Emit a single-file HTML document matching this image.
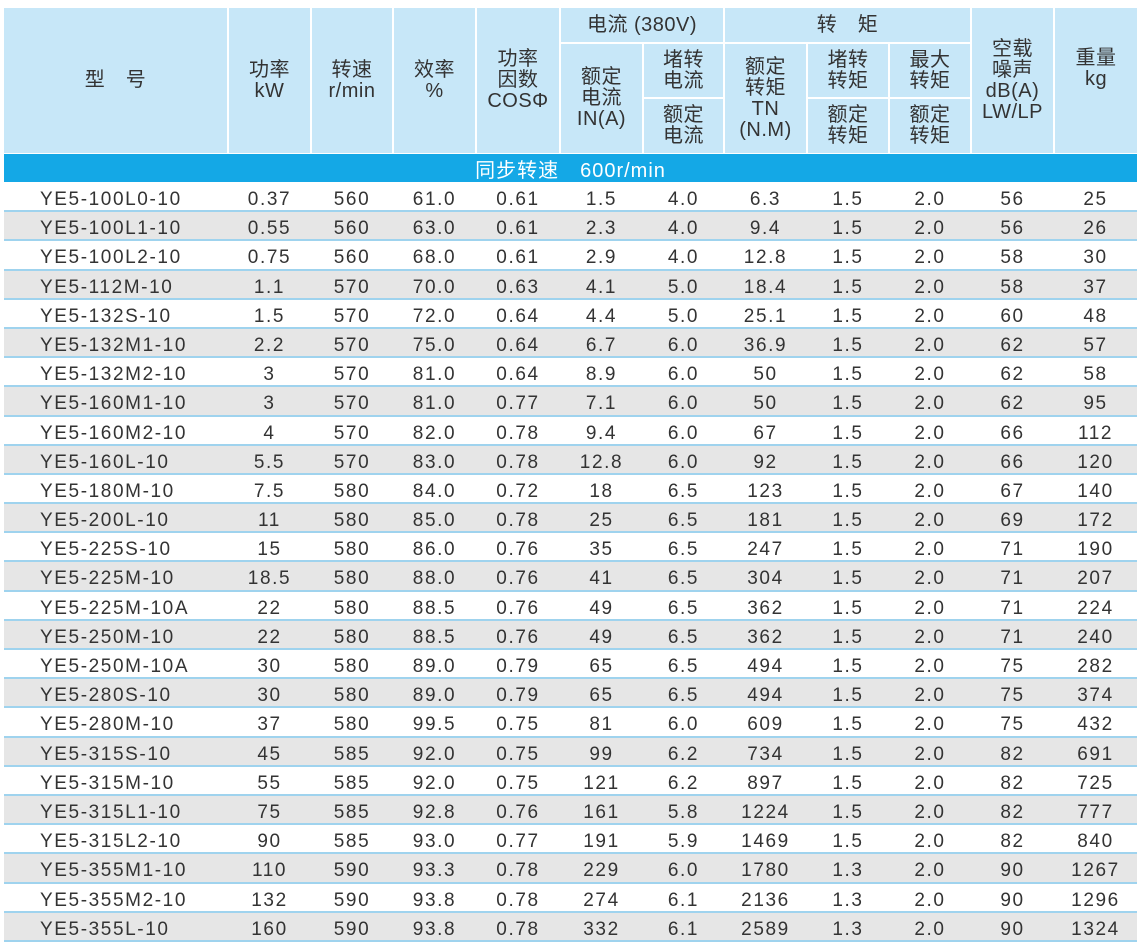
<!DOCTYPE html>
<html><head><meta charset="utf-8"><style>
body{margin:0;width:1144px;height:947px;background:#fff;position:relative;overflow:hidden;font-family:"Liberation Sans","Noto Sans CJK SC",sans-serif;color:#333}
.h{position:absolute;background:#c7e7f8;display:flex;align-items:center;justify-content:center;text-align:center;font-size:20px;line-height:21px;color:#333;letter-spacing:0.5px}
.band{position:absolute;left:4px;top:154px;width:1133px;height:28px;background:#14a8e6;color:#fff;font-size:20px;line-height:34px;text-align:center;letter-spacing:1px}
.rows{position:absolute;left:4px;top:183px;width:1133px}
.r{height:27.2px;border-bottom:2px solid #9fd3ee;display:flex;font-size:19px;line-height:34px;color:#333;letter-spacing:1.6px}
.r.g{background:#e6e6e6}
.r span{text-align:center;display:block}
.r span:nth-child(1){width:224px;text-align:left;padding-left:36px;box-sizing:border-box}
.r span:nth-child(2){width:83px}.r span:nth-child(3){width:82px}.r span:nth-child(4){width:83px}
.r span:nth-child(5){width:84px}.r span:nth-child(6){width:83px}.r span:nth-child(7){width:81px}
.r span:nth-child(8){width:83px}.r span:nth-child(9){width:82px}.r span:nth-child(10){width:82px}
.r span:nth-child(11){width:83px}.r span:nth-child(12){width:83px}
</style></head><body>
<div class="h" style="left:4px;top:8px;width:223px;height:145px">型　号</div>
<div class="h" style="left:229px;top:8px;width:81px;height:145px">功率<br>kW</div>
<div class="h" style="left:312px;top:8px;width:80px;height:145px">转速<br>r/min</div>
<div class="h" style="left:394px;top:8px;width:81px;height:145px">效率<br>%</div>
<div class="h" style="left:477px;top:8px;width:82px;height:145px;padding-top:0">功率<br>因数<br>COSΦ</div>
<div class="h" style="left:561px;top:8px;width:162px;height:34px">电流 (380V)</div>
<div class="h" style="left:725px;top:8px;width:245px;height:34px">转　矩</div>
<div class="h" style="left:561px;top:44px;width:81px;height:109px">额定<br>电流<br>IN(A)</div>
<div class="h" style="left:644px;top:44px;width:79px;height:53px">堵转<br>电流</div>
<div class="h" style="left:644px;top:99px;width:79px;height:54px">额定<br>电流</div>
<div class="h" style="left:725px;top:44px;width:81px;height:109px">额定<br>转矩<br>TN<br>(N.M)</div>
<div class="h" style="left:808px;top:44px;width:80px;height:53px">堵转<br>转矩</div>
<div class="h" style="left:808px;top:99px;width:80px;height:54px">额定<br>转矩</div>
<div class="h" style="left:890px;top:44px;width:80px;height:53px">最大<br>转矩</div>
<div class="h" style="left:890px;top:99px;width:80px;height:54px">额定<br>转矩</div>
<div class="h" style="left:972px;top:8px;width:81px;height:145px">空载<br>噪声<br>dB(A)<br>LW/LP</div>
<div class="h" style="left:1055px;top:8px;width:82px;height:145px;align-items:flex-start;padding-top:40px;box-sizing:border-box">重量<br>kg</div>
<div class="band">同步转速　600r/min</div>
<div class="rows">
<div class="r"><span>YE5-100L0-10</span><span>0.37</span><span>560</span><span>61.0</span><span>0.61</span><span>1.5</span><span>4.0</span><span>6.3</span><span>1.5</span><span>2.0</span><span>56</span><span>25</span></div>
<div class="r g"><span>YE5-100L1-10</span><span>0.55</span><span>560</span><span>63.0</span><span>0.61</span><span>2.3</span><span>4.0</span><span>9.4</span><span>1.5</span><span>2.0</span><span>56</span><span>26</span></div>
<div class="r"><span>YE5-100L2-10</span><span>0.75</span><span>560</span><span>68.0</span><span>0.61</span><span>2.9</span><span>4.0</span><span>12.8</span><span>1.5</span><span>2.0</span><span>58</span><span>30</span></div>
<div class="r g"><span>YE5-112M-10</span><span>1.1</span><span>570</span><span>70.0</span><span>0.63</span><span>4.1</span><span>5.0</span><span>18.4</span><span>1.5</span><span>2.0</span><span>58</span><span>37</span></div>
<div class="r"><span>YE5-132S-10</span><span>1.5</span><span>570</span><span>72.0</span><span>0.64</span><span>4.4</span><span>5.0</span><span>25.1</span><span>1.5</span><span>2.0</span><span>60</span><span>48</span></div>
<div class="r g"><span>YE5-132M1-10</span><span>2.2</span><span>570</span><span>75.0</span><span>0.64</span><span>6.7</span><span>6.0</span><span>36.9</span><span>1.5</span><span>2.0</span><span>62</span><span>57</span></div>
<div class="r"><span>YE5-132M2-10</span><span>3</span><span>570</span><span>81.0</span><span>0.64</span><span>8.9</span><span>6.0</span><span>50</span><span>1.5</span><span>2.0</span><span>62</span><span>58</span></div>
<div class="r g"><span>YE5-160M1-10</span><span>3</span><span>570</span><span>81.0</span><span>0.77</span><span>7.1</span><span>6.0</span><span>50</span><span>1.5</span><span>2.0</span><span>62</span><span>95</span></div>
<div class="r"><span>YE5-160M2-10</span><span>4</span><span>570</span><span>82.0</span><span>0.78</span><span>9.4</span><span>6.0</span><span>67</span><span>1.5</span><span>2.0</span><span>66</span><span>112</span></div>
<div class="r g"><span>YE5-160L-10</span><span>5.5</span><span>570</span><span>83.0</span><span>0.78</span><span>12.8</span><span>6.0</span><span>92</span><span>1.5</span><span>2.0</span><span>66</span><span>120</span></div>
<div class="r"><span>YE5-180M-10</span><span>7.5</span><span>580</span><span>84.0</span><span>0.72</span><span>18</span><span>6.5</span><span>123</span><span>1.5</span><span>2.0</span><span>67</span><span>140</span></div>
<div class="r g"><span>YE5-200L-10</span><span>11</span><span>580</span><span>85.0</span><span>0.78</span><span>25</span><span>6.5</span><span>181</span><span>1.5</span><span>2.0</span><span>69</span><span>172</span></div>
<div class="r"><span>YE5-225S-10</span><span>15</span><span>580</span><span>86.0</span><span>0.76</span><span>35</span><span>6.5</span><span>247</span><span>1.5</span><span>2.0</span><span>71</span><span>190</span></div>
<div class="r g"><span>YE5-225M-10</span><span>18.5</span><span>580</span><span>88.0</span><span>0.76</span><span>41</span><span>6.5</span><span>304</span><span>1.5</span><span>2.0</span><span>71</span><span>207</span></div>
<div class="r"><span>YE5-225M-10A</span><span>22</span><span>580</span><span>88.5</span><span>0.76</span><span>49</span><span>6.5</span><span>362</span><span>1.5</span><span>2.0</span><span>71</span><span>224</span></div>
<div class="r g"><span>YE5-250M-10</span><span>22</span><span>580</span><span>88.5</span><span>0.76</span><span>49</span><span>6.5</span><span>362</span><span>1.5</span><span>2.0</span><span>71</span><span>240</span></div>
<div class="r"><span>YE5-250M-10A</span><span>30</span><span>580</span><span>89.0</span><span>0.79</span><span>65</span><span>6.5</span><span>494</span><span>1.5</span><span>2.0</span><span>75</span><span>282</span></div>
<div class="r g"><span>YE5-280S-10</span><span>30</span><span>580</span><span>89.0</span><span>0.79</span><span>65</span><span>6.5</span><span>494</span><span>1.5</span><span>2.0</span><span>75</span><span>374</span></div>
<div class="r"><span>YE5-280M-10</span><span>37</span><span>580</span><span>99.5</span><span>0.75</span><span>81</span><span>6.0</span><span>609</span><span>1.5</span><span>2.0</span><span>75</span><span>432</span></div>
<div class="r g"><span>YE5-315S-10</span><span>45</span><span>585</span><span>92.0</span><span>0.75</span><span>99</span><span>6.2</span><span>734</span><span>1.5</span><span>2.0</span><span>82</span><span>691</span></div>
<div class="r"><span>YE5-315M-10</span><span>55</span><span>585</span><span>92.0</span><span>0.75</span><span>121</span><span>6.2</span><span>897</span><span>1.5</span><span>2.0</span><span>82</span><span>725</span></div>
<div class="r g"><span>YE5-315L1-10</span><span>75</span><span>585</span><span>92.8</span><span>0.76</span><span>161</span><span>5.8</span><span>1224</span><span>1.5</span><span>2.0</span><span>82</span><span>777</span></div>
<div class="r"><span>YE5-315L2-10</span><span>90</span><span>585</span><span>93.0</span><span>0.77</span><span>191</span><span>5.9</span><span>1469</span><span>1.5</span><span>2.0</span><span>82</span><span>840</span></div>
<div class="r g"><span>YE5-355M1-10</span><span>110</span><span>590</span><span>93.3</span><span>0.78</span><span>229</span><span>6.0</span><span>1780</span><span>1.3</span><span>2.0</span><span>90</span><span>1267</span></div>
<div class="r"><span>YE5-355M2-10</span><span>132</span><span>590</span><span>93.8</span><span>0.78</span><span>274</span><span>6.1</span><span>2136</span><span>1.3</span><span>2.0</span><span>90</span><span>1296</span></div>
<div class="r g"><span>YE5-355L-10</span><span>160</span><span>590</span><span>93.8</span><span>0.78</span><span>332</span><span>6.1</span><span>2589</span><span>1.3</span><span>2.0</span><span>90</span><span>1324</span></div>
</div>
</body></html>
